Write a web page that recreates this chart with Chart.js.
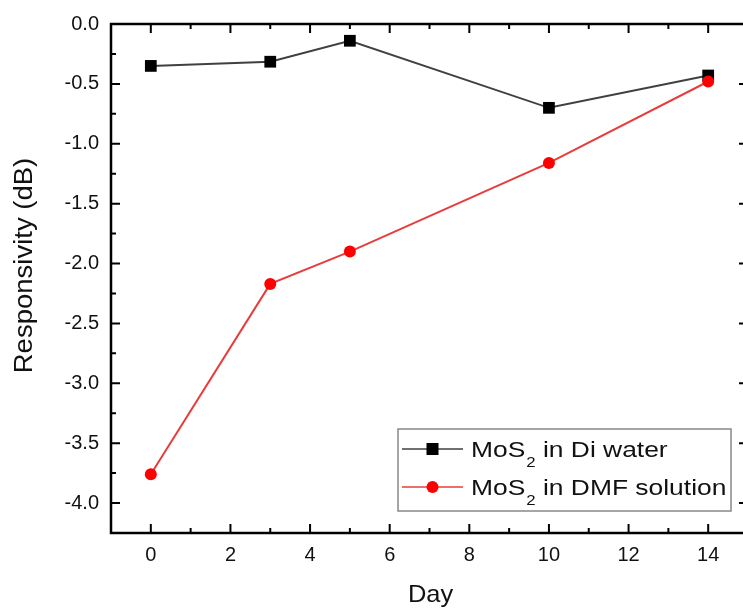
<!DOCTYPE html>
<html>
<head>
<meta charset="utf-8">
<script src="https://cdn.jsdelivr.net/npm/chart.js@4.4.1/dist/chart.umd.min.js"></script>
<style>
    html, body { margin: 0; padding: 0; background: #fff; overflow: hidden; width: 743px; height: 610px; }
    #wrap { width: 760px; height: 610px; }
</style>
</head>
<body>
<div id="wrap"><canvas id="myChart"></canvas></div>
<script>
const days = [0, 3, 5, 10, 14];
const diWater = [-0.35, -0.315, -0.14, -0.70, -0.43];
const dmfSolution = [-3.76, -2.17, -1.90, -1.16, -0.48];
const seriesNames = ["in Di water", "in DMF solution"];
const xTitle = "Day";
const yTitle = "Responsivity (dB)";

const FONT = "'Liberation Sans', Arial, sans-serif";
const TEXT = '#111';

function toPoints(xs, ys) {
    return xs.map((x, i) => ({ x: x, y: ys[i] }));
}

function isMultiple(v, step) {
    const r = v / step;
    return Math.abs(r - Math.round(r)) < 1e-6;
}

// text in the original figure is a bit wider than Arial, so stretch it
function wideText(ctx, text, x, y, size, stretch, align, angle) {
    ctx.save();
    ctx.translate(x, y);
    if (angle) ctx.rotate(angle);
    ctx.scale(stretch, 1);
    ctx.font = size + 'px ' + FONT;
    ctx.textAlign = align;
    ctx.textBaseline = 'alphabetic';
    ctx.fillText(text, 0, 0);
    const w = ctx.measureText(text).width * stretch;
    ctx.restore();
    return w;
}

// frame, inward ticks on all four sides, titles and legend with subscripts
const framePlugin = {
    id: 'frame',
    afterDraw(chart) {
        const ctx = chart.ctx;
        const area = chart.chartArea;
        const xs = chart.scales.x;
        const ys = chart.scales.y;
        ctx.save();
        ctx.strokeStyle = '#000';
        ctx.lineWidth = 2.5;
        ctx.strokeRect(area.left, area.top, area.right - area.left, area.bottom - area.top);

        ctx.lineWidth = 2;
        ctx.beginPath();
        xs.ticks.forEach(t => {
            const px = xs.getPixelForValue(t.value);
            const len = isMultiple(t.value, 2) ? 9 : 5;
            ctx.moveTo(px, area.bottom);
            ctx.lineTo(px, area.bottom - len);
            ctx.moveTo(px, area.top);
            ctx.lineTo(px, area.top + len);
        });
        ys.ticks.forEach(t => {
            const py = ys.getPixelForValue(t.value);
            const len = isMultiple(t.value, 0.5) ? 9 : 5;
            ctx.moveTo(area.left, py);
            ctx.lineTo(area.left + len, py);
            ctx.moveTo(area.right, py);
            ctx.lineTo(area.right - len, py);
        });
        ctx.stroke();

        // axis titles
        ctx.fillStyle = TEXT;
        wideText(ctx, xTitle, (area.left + area.right) / 2 + 1, area.bottom + 69, 24, 1.06, 'center', 0);
        wideText(ctx, yTitle, area.left - 79, (area.top + area.bottom) / 2 - 13, 25, 1.1, 'center', -Math.PI / 2);

        // legend
        const bx = area.right - 350, by = area.bottom - 104, bw = 333, bh = 82;
        ctx.fillStyle = '#fff';
        ctx.fillRect(bx, by, bw, bh);
        ctx.strokeStyle = '#888';
        ctx.lineWidth = 1.5;
        ctx.strokeRect(bx, by, bw, bh);
        chart.data.datasets.forEach((ds, i) => {
            const cy = by + 20 + i * 38;
            ctx.strokeStyle = ds.borderColor;
            ctx.lineWidth = 1.5;
            ctx.beginPath();
            ctx.moveTo(bx + 4, cy);
            ctx.lineTo(bx + 65, cy);
            ctx.stroke();
            ctx.fillStyle = ds.pointBackgroundColor;
            if (ds.pointStyle === 'rect') {
                ctx.fillRect(bx + 28.5, cy - 6, 12, 12);
            } else {
                ctx.beginPath();
                ctx.arc(bx + 34.5, cy, 6, 0, Math.PI * 2);
                ctx.fill();
            }
            ctx.fillStyle = TEXT;
            let tx = bx + 73;
            tx += wideText(ctx, 'MoS', tx, cy + 8, 22, 1.2, 'left', 0);
            tx += wideText(ctx, '2', tx + 1, cy + 18, 14, 1.2, 'left', 0) + 1;
            wideText(ctx, ' ' + seriesNames[i], tx, cy + 8, 22, 1.2, 'left', 0);
        });
        ctx.restore();
    }
};

const chart = new Chart(document.getElementById('myChart').getContext('2d'), {
    type: 'line',
    data: {
        datasets: [
            {
                label: 'MoS2 in Di water',
                data: toPoints(days, diWater),
                order: 1,
                borderColor: '#404040',
                borderWidth: 2,
                pointStyle: 'rect',
                pointRadius: 8.3,
                pointBackgroundColor: '#000',
                pointBorderColor: '#000',
                pointBorderWidth: 0,
                tension: 0
            },
            {
                label: 'MoS2 in DMF solution',
                data: toPoints(days, dmfSolution),
                order: 0,
                borderColor: '#e83c3c',
                borderWidth: 2,
                pointStyle: 'circle',
                pointRadius: 6,
                pointBackgroundColor: '#ff0000',
                pointBorderColor: '#ff0000',
                pointBorderWidth: 0,
                tension: 0
            }
        ]
    },
    options: {
        responsive: true,
        maintainAspectRatio: false,
        animation: false,
        layout: { padding: { top: 20, right: 12, left: 0, bottom: 0 } },
        plugins: {
            legend: { display: false },
            tooltip: { enabled: false }
        },
        scales: {
            x: {
                type: 'linear',
                min: -1,
                max: 15,
                afterFit: (scale) => { scale.height = 77; },
                grid: { display: false, drawTicks: false },
                border: { display: false },
                ticks: {
                    stepSize: 1,
                    padding: 10,
                    color: TEXT,
                    font: { family: FONT, size: 20 },
                    callback: (v) => (isMultiple(v, 2) && v >= 0 && v <= 14) ? String(v) : ''
                }
            },
            y: {
                min: -4.25,
                max: 0,
                afterFit: (scale) => { scale.width = 111; },
                grid: { display: false, drawTicks: false },
                border: { display: false },
                ticks: {
                    stepSize: 0.25,
                    padding: 12,
                    color: TEXT,
                    font: { family: FONT, size: 20 },
                    callback: (v) => isMultiple(v, 0.5) && v >= -4 ? v.toFixed(1) : ''
                }
            }
        }
    },
    plugins: [framePlugin]
});
</script>
</body>
</html>
